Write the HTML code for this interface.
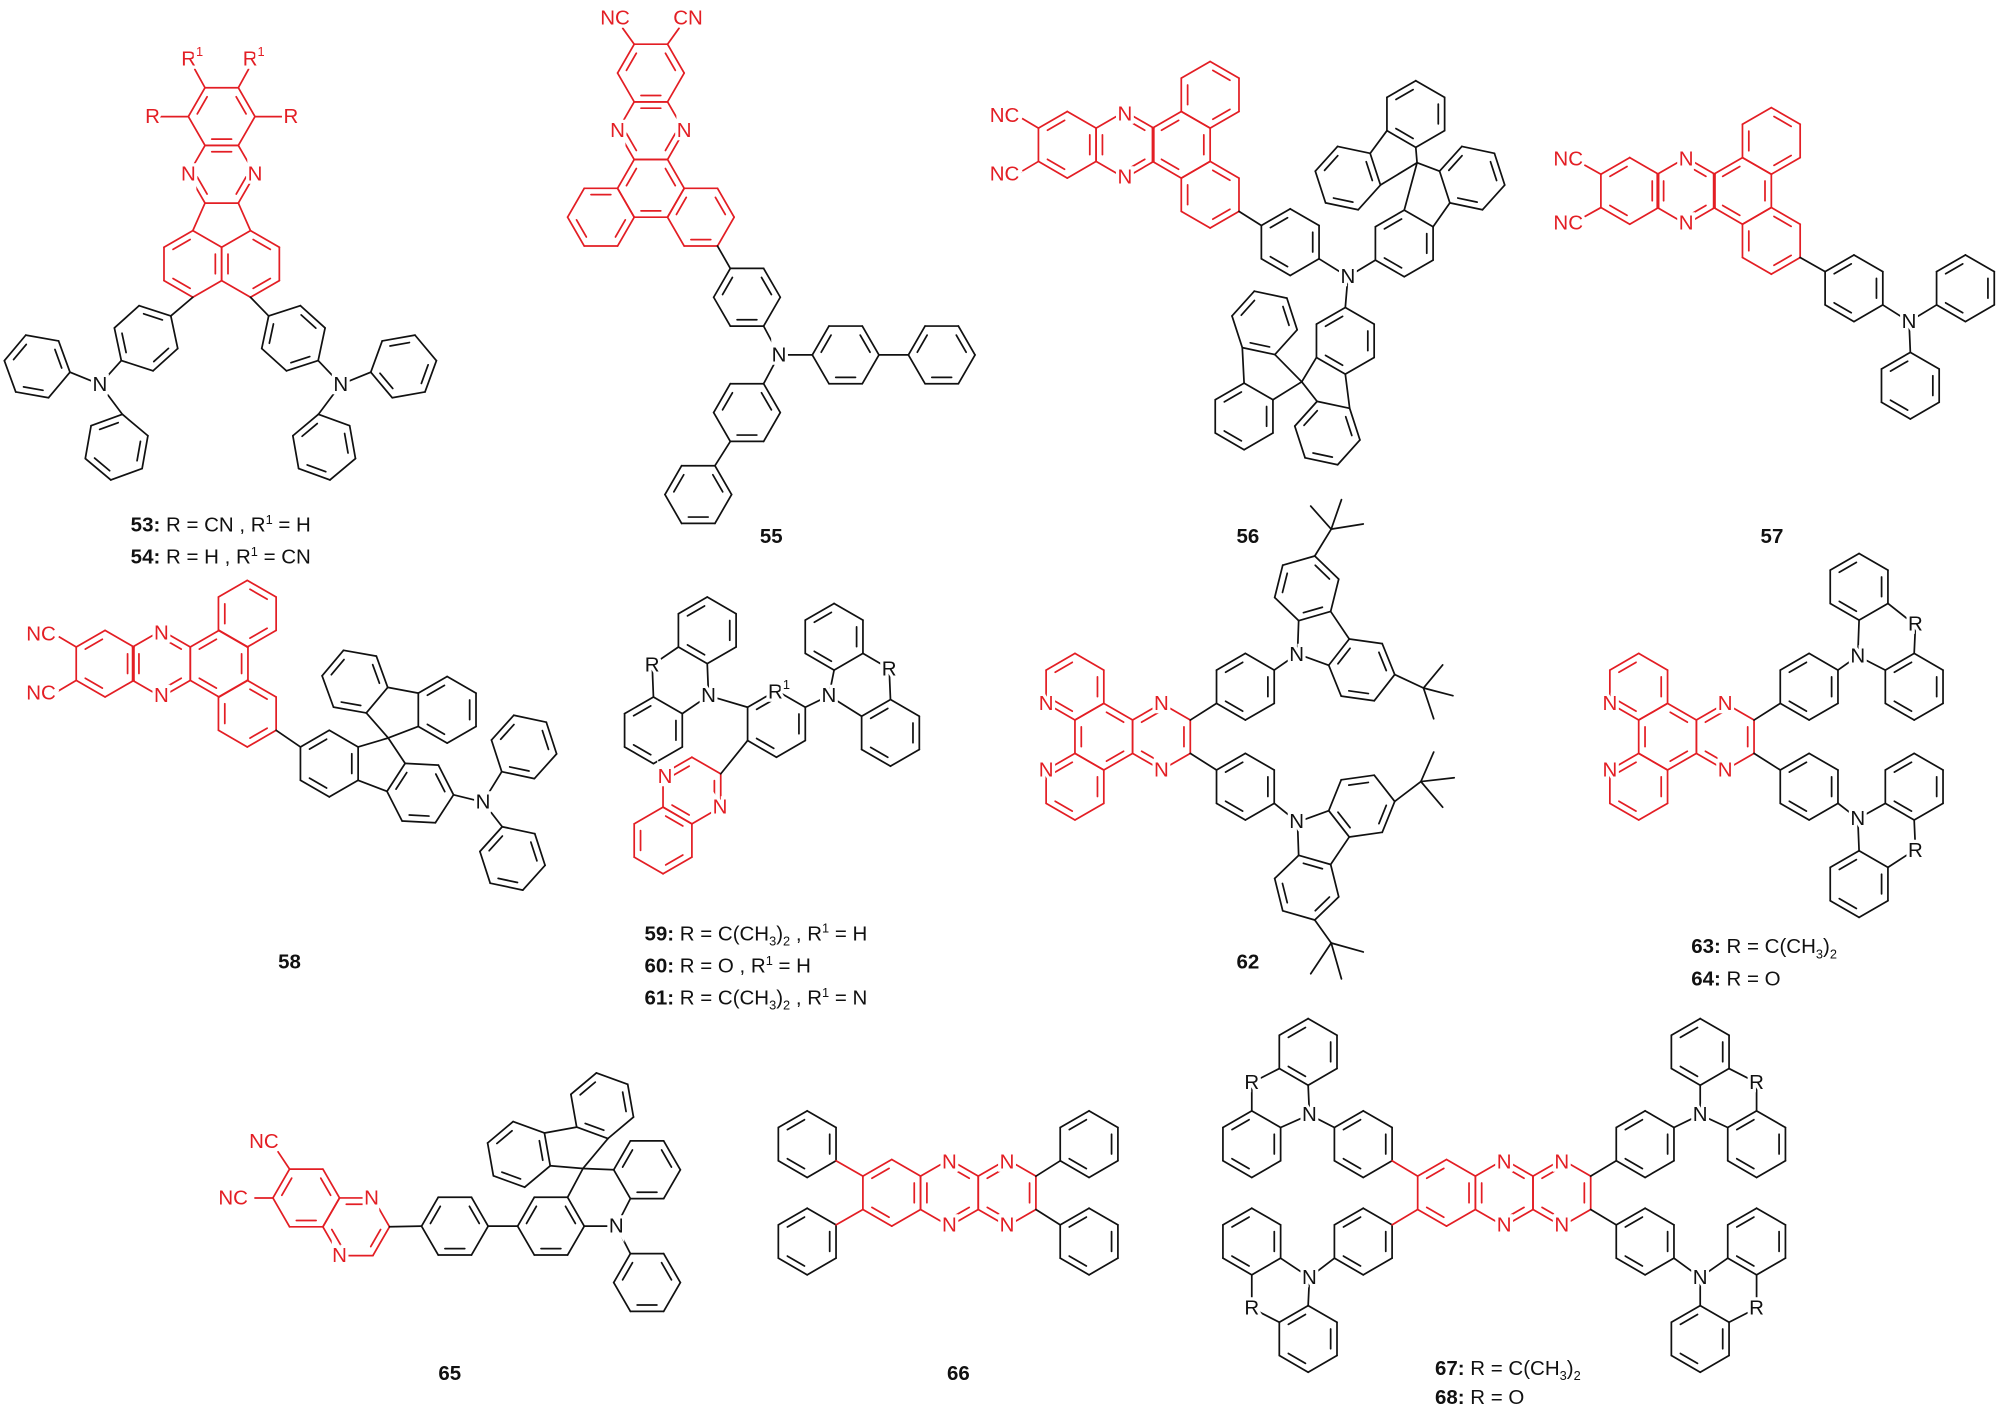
<!DOCTYPE html>
<html><head><meta charset="utf-8"><style>
html,body{margin:0;padding:0;background:#fff;}
svg{display:block;}
text{font-family:"Liberation Sans",Arial,sans-serif;}
.a{font-size:16px;text-anchor:middle;dominant-baseline:central;paint-order:stroke;stroke:#fff;stroke-width:5px;}
.r{fill:#e31e24;}
.k{fill:#111;}
.lab{font-size:16px;fill:#111;}
.b{font-weight:bold;}
</style></head><body>
<svg id="s" width="2009" height="1410" viewBox="0 0 1568 1100.5" xmlns="http://www.w3.org/2000/svg">
<g id="bonds" fill="none" stroke-width="1.35" stroke-linecap="round"></g>
<g id="labels">
<!-- 53 -->
<text class="a r" x="150" y="46">R<tspan font-size="10" dy="-6">1</tspan></text>
<text class="a r" x="198" y="46">R<tspan font-size="10" dy="-6">1</tspan></text>
<text class="a r" x="119" y="91">R</text>
<text class="a r" x="227" y="91">R</text>
<text class="a r" x="147" y="136">N</text>
<text class="a r" x="199" y="136">N</text>
<text class="a k" x="78" y="300">N</text>
<text class="a k" x="266" y="300">N</text>
<text class="lab" x="102" y="415"><tspan class="b">53:</tspan> R = CN , R<tspan font-size="10" dy="-6">1</tspan><tspan dy="6"> = H</tspan></text>
<text class="lab" x="102" y="440"><tspan class="b">54:</tspan> R = H , R<tspan font-size="10" dy="-6">1</tspan><tspan dy="6"> = CN</tspan></text>
<!-- 55 -->
<text class="a r" x="480" y="14">NC</text>
<text class="a r" x="537" y="14">CN</text>
<text class="a r" x="482" y="102">N</text>
<text class="a r" x="534" y="102">N</text>
<text class="a k" x="608" y="277">N</text>
<text class="lab b" x="602" y="424" text-anchor="middle">55</text>
<!-- 56 -->
<text class="a r" x="784" y="90">NC</text>
<text class="a r" x="784" y="136">NC</text>
<text class="a r" x="878" y="89">N</text>
<text class="a r" x="878" y="138">N</text>
<text class="a k" x="1052" y="216">N</text>
<text class="lab b" x="974" y="424" text-anchor="middle">56</text>
<!-- 57 -->
<text class="a r" x="1224" y="124">NC</text>
<text class="a r" x="1224" y="174">NC</text>
<text class="a r" x="1316" y="124">N</text>
<text class="a r" x="1316" y="174">N</text>
<text class="a k" x="1490" y="251">N</text>
<text class="lab b" x="1383" y="424" text-anchor="middle">57</text>
<!-- 58 -->
<text class="a r" x="32" y="495">NC</text>
<text class="a r" x="32" y="541">NC</text>
<text class="a r" x="126" y="494">N</text>
<text class="a r" x="126" y="543">N</text>
<text class="a k" x="377" y="626">N</text>
<text class="lab b" x="226" y="756" text-anchor="middle">58</text>
<!-- 59 -->
<text class="a k" x="553" y="543">N</text>
<text class="a k" x="647" y="543">N</text>
<text class="a k" x="509" y="519">R</text>
<text class="a k" x="694" y="522">R</text>
<text class="a k" x="608" y="540">R<tspan font-size="10" dy="-6">1</tspan></text>
<text class="a r" x="519" y="606">N</text>
<text class="a r" x="562" y="630">N</text>
<text class="lab" x="503" y="734"><tspan class="b">59:</tspan> R = C(CH<tspan font-size="10" dy="4">3</tspan><tspan dy="-4">)</tspan><tspan font-size="10" dy="4">2</tspan><tspan dy="-4"> , R</tspan><tspan font-size="10" dy="-6">1</tspan><tspan dy="6"> = H</tspan></text>
<text class="lab" x="503" y="759"><tspan class="b">60:</tspan> R = O , R<tspan font-size="10" dy="-6">1</tspan><tspan dy="6"> = H</tspan></text>
<text class="lab" x="503" y="784"><tspan class="b">61:</tspan>  R = C(CH<tspan font-size="10" dy="4">3</tspan><tspan dy="-4">)</tspan><tspan font-size="10" dy="4">2</tspan><tspan dy="-4"> , R</tspan><tspan font-size="10" dy="-6">1</tspan><tspan dy="6"> = N</tspan></text>
<!-- 62 -->
<text class="a r" x="816.5" y="549">N</text>
<text class="a r" x="816.5" y="601">N</text>
<text class="a r" x="906.5" y="549">N</text>
<text class="a r" x="906.5" y="601">N</text>
<text class="a k" x="1012" y="511">N</text>
<text class="a k" x="1012" y="641">N</text>
<text class="lab b" x="974" y="756" text-anchor="middle">62</text>
<!-- 63 -->
<text class="a r" x="1256.5" y="549">N</text>
<text class="a r" x="1256.5" y="601">N</text>
<text class="a r" x="1346.5" y="549">N</text>
<text class="a r" x="1346.5" y="601">N</text>
<text class="a k" x="1450" y="512">N</text>
<text class="a k" x="1450" y="639">N</text>
<text class="a k" x="1495" y="487">R</text>
<text class="a k" x="1495" y="664">R</text>
<text class="lab" x="1320" y="744"><tspan class="b">63:</tspan> R = C(CH<tspan font-size="10" dy="4">3</tspan><tspan dy="-4">)</tspan><tspan font-size="10" dy="4">2</tspan></text>
<text class="lab" x="1320" y="769"><tspan class="b">64:</tspan> R = O</text>
<!-- 65 -->
<text class="a r" x="206" y="891">NC</text>
<text class="a r" x="182" y="935">NC</text>
<text class="a r" x="290" y="935">N</text>
<text class="a r" x="265" y="980">N</text>
<text class="a k" x="481" y="957">N</text>
<text class="lab b" x="351" y="1077" text-anchor="middle">65</text>
<!-- 66 -->
<text class="a r" x="741" y="907">N</text>
<text class="a r" x="741" y="956">N</text>
<text class="a r" x="786" y="907">N</text>
<text class="a r" x="786" y="956">N</text>
<text class="lab b" x="748" y="1077" text-anchor="middle">66</text>
<!-- 67 -->
<text class="a r" x="1174" y="907">N</text>
<text class="a r" x="1174" y="956">N</text>
<text class="a r" x="1219" y="907">N</text>
<text class="a r" x="1219" y="956">N</text>
<text class="a k" x="1022" y="870">N</text>
<text class="a k" x="1022" y="997">N</text>
<text class="a k" x="1327" y="870">N</text>
<text class="a k" x="1327" y="997">N</text>
<text class="a k" x="977" y="845">R</text>
<text class="a k" x="977" y="1021">R</text>
<text class="a k" x="1371" y="845">R</text>
<text class="a k" x="1371" y="1021">R</text>
<text class="lab" x="1120" y="1073"><tspan class="b">67:</tspan> R = C(CH<tspan font-size="10" dy="4">3</tspan><tspan dy="-4">)</tspan><tspan font-size="10" dy="4">2</tspan></text>
<text class="lab" x="1120" y="1096"><tspan class="b">68:</tspan> R = O</text>
</g>
</svg>
<script>
(function(){
var G=document.getElementById('bonds'),NS='http://www.w3.org/2000/svg',S=26;
var RED='#e31e24',BK='#111';
function L(x1,y1,x2,y2,c){var l=document.createElementNS(NS,'line');l.setAttribute('x1',x1);l.setAttribute('y1',y1);l.setAttribute('x2',x2);l.setAttribute('y2',y2);l.setAttribute('stroke',c||BK);G.appendChild(l);}
function ring(cx,cy,rot,c,db){c=c||BK;db=db||0;var v=[];for(var k=0;k<6;k++){var a=(rot+60*k)*Math.PI/180;v.push([cx+S*Math.cos(a),cy+S*Math.sin(a)]);}
 for(var k=0;k<6;k++){var p=v[k],q=v[(k+1)%6];L(p[0],p[1],q[0],q[1],c);}
 for(var k=db;k<6;k+=2){var p=v[k],q=v[(k+1)%6];var f=0.78;var px=cx+(p[0]-cx)*f,py=cy+(p[1]-cy)*f,qx=cx+(q[0]-cx)*f,qy=cy+(q[1]-cy)*f;var dx=(qx-px)*0.12,dy=(qy-py)*0.12;L(px+dx,py+dy,qx-dx,qy-dy,c);}
 return {c:[cx,cy],v:v};}
function d2(a,b){return (a[0]-b[0])*(a[0]-b[0])+(a[1]-b[1])*(a[1]-b[1]);}
function near(r,p){var best=r.v[0];for(var i=1;i<6;i++)if(d2(r.v[i],p)<d2(best,p))best=r.v[i];return best;}
function link(a,b,c){var bp=null,bq=null,bd=1e9;for(var i=0;i<6;i++)for(var j=0;j<6;j++){var d=d2(a.v[i],b.v[j]);if(d<bd){bd=d;bp=a.v[i];bq=b.v[j];}}L(bp[0],bp[1],bq[0],bq[1],c);}
function to(r,p,c){var q=near(r,p);L(q[0],q[1],p[0],p[1],c);}
function tbu(cx,cy,arms){arms.forEach(function(a){L(cx,cy,a[0],a[1]);});}
function carb(cx,cy,ang){var Rp=22.1,v=[];for(var k=0;k<5;k++){var a=(ang+72*k)*Math.PI/180;v.push([cx+Rp*Math.cos(a),cy+Rp*Math.sin(a)]);}
 function hexOn(p,q,db){var mx=(p[0]+q[0])/2,my=(p[1]+q[1])/2,dx=mx-cx,dy=my-cy,l=Math.sqrt(dx*dx+dy*dy);var hx=mx+dx/l*22.5,hy=my+dy/l*22.5;var rot=Math.atan2(p[1]-hy,p[0]-hx)*180/Math.PI;return ring(hx,hy,rot,BK,db);}
 var r1=hexOn(v[1],v[2],1),r2=hexOn(v[3],v[4],1);
 L(v[0][0],v[0][1],v[1][0],v[1][1]);L(v[2][0],v[2][1],v[3][0],v[3][1]);L(v[4][0],v[4][1],v[0][0],v[0][1]);
 return [r1,r2,v[0]];}

/* 53 */
var a1=ring(173,91,0,RED,1),a2=ring(173,136,0,RED,0);
var n1=ring(150.5,206,30,RED,1),n2=ring(195.5,206,30,RED,0);
L(160,158.5,150.5,180,RED);L(186,158.5,195.5,180,RED);
L(147,91,125,91,RED);L(199,91,221,91,RED);L(160,68.5,152,54,RED);L(186,68.5,194,54,RED);
var p1=ring(114,264,18,BK,0),p2=ring(229,264,42,BK,0);
link(n1,p1);link(n2,p2);
to(p1,[78,300]);to(p2,[266,300]);
var q1=ring(29,286,10,BK,1),q2=ring(91,349,40,BK,1),q3=ring(315,286,50,BK,1),q4=ring(253,349,20,BK,1);
to(q1,[78,300]);to(q2,[78,300]);to(q3,[266,300]);to(q4,[266,300]);

/* 55 */
var b1=ring(508,57,0,RED,1),b2=ring(508,102,0,RED,0),b3=ring(508,147,0,RED,1),b4=ring(469,169.5,0,RED,0),b5=ring(547,169.5,0,RED,1);
L(495,34.5,486,22,RED);L(521,34.5,530,22,RED);
var c1=ring(583,232,0,BK,1);link(b5,c1);to(c1,[608,277]);
var c2=ring(660,277,0,BK,1);to(c2,[608,277]);var c3=ring(735,277,0,BK,1);link(c2,c3);
var c4=ring(583,322,0,BK,1);to(c4,[608,277]);var c5=ring(545,386,0,BK,1);link(c4,c5);

/* 56 */
var d1=ring(833,113,30,RED,1),d2r=ring(878,113,30,RED,0),d3=ring(922,113,30,RED,1),d4=ring(944.5,74,30,RED,0),d5=ring(944.5,152,30,RED,0);
L(810.5,100,797,92,RED);L(810.5,126,797,134,RED);
var e1=ring(1007,189,30,BK,1);link(d5,e1);to(e1,[1052,216]);
var e2=ring(1096,190,30,BK,1);to(e2,[1052,216]);
var e3=ring(1149,139,12,BK,1),e4=ring(1052,139,12,BK,1),e5=ring(1105,89,30,BK,1);
link(e2,e3);link(e4,e5);var S1=[1106,127];to(e2,S1);to(e3,S1);to(e4,S1);to(e5,S1);
var f1=ring(1050,266,30,BK,1);to(f1,[1052,216]);
var f2=ring(1036,338,12,BK,1),f3=ring(987,252,12,BK,1),f4=ring(971,325,30,BK,1);
link(f1,f2);link(f3,f4);var S2=[1016,298];to(f1,S2);to(f2,S2);to(f3,S2);to(f4,S2);

/* 57 */
var g1=ring(1272,149,30,RED,1),g2=ring(1316,149,30,RED,0),g3=ring(1360,149,30,RED,1),g4=ring(1382.5,110,30,RED,0),g5=ring(1382.5,188,30,RED,0);
L(1249.5,136,1237,129,RED);L(1249.5,162,1237,169,RED);
var h1=ring(1447,225,30,BK,1);link(g5,h1);to(h1,[1490,251]);
var h2=ring(1534,225,30,BK,1);to(h2,[1490,251]);var h3=ring(1491,301,30,BK,1);to(h3,[1490,251]);

/* 58 */
var i1=ring(82,518,30,RED,1),i2=ring(126,518,30,RED,0),i3=ring(171,518,30,RED,1),i4=ring(193,479,30,RED,0),i5=ring(193,557,30,RED,0);
L(59.5,505,46,497,RED);L(59.5,531,46,539,RED);
var j1=ring(257,596,30,BK,1);link(i5,j1);
var j2=ring(328,619,3,BK,1),j3=ring(277,532,10,BK,1),j4=ring(349,554,30,BK,1);
link(j1,j2);link(j3,j4);var S3=[303,576];to(j1,S3);to(j2,S3);to(j3,S3);to(j4,S3);
to(j2,[377,626]);var j5=ring(409,583,12,BK,1),j6=ring(400,670,12,BK,1);to(j5,[377,626]);to(j6,[377,626]);

/* 59 */
var k1=ring(552,492,30,BK,1),k2=ring(651,497,30,BK,1),k3=ring(510,570,30,BK,1),k4=ring(606,565,30,BK,1),k5=ring(695,572,30,BK,1);
to(k1,[553,543]);to(k3,[553,543]);to(k1,[509,519]);to(k3,[509,519]);
to(k2,[647,543]);to(k5,[647,543]);to(k2,[694,522]);to(k5,[694,522]);
to(k4,[553,543]);to(k4,[647,543]);
var k6=ring(540,617,30,RED,1),k7=ring(517.5,656,30,RED,0);link(k4,k6,BK);

/* 62 */
var m1=ring(839,536,30,RED,1),m2=ring(861.5,575,30,RED,0),m3=ring(839,614,30,RED,1),m4=ring(906.5,575,30,RED,1);
var m5=ring(972,536,30,BK,1),m6=ring(972,614,30,BK,1);link(m4,m5);link(m4,m6);
var cu=carb(1031,498,146),cl=carb(1031,654,214);
var m7=cu[0],m8=cu[1],m9=cl[0],m10=cl[1];
to(m5,cu[2]);to(m6,cl[2]);
to(m8,[1111,537]);tbu(1111,537,[[1126,519],[1134,543],[1119,561]]);
to(m7,[1039,413]);tbu(1039,413,[[1023,395],[1064,409],[1047,390]]);
to(m9,[1109,610]);tbu(1109,610,[[1119,587],[1135,607],[1126,630]]);
to(m10,[1039,736]);tbu(1039,736,[[1023,760],[1064,743],[1047,764]]);

/* 63 */
var o1=ring(1279,536,30,RED,1),o2=ring(1301.5,575,30,RED,0),o3=ring(1279,614,30,RED,1),o4=ring(1346.5,575,30,RED,1);
var o5=ring(1412,536,30,BK,1),o6=ring(1412,614,30,BK,1);link(o4,o5);link(o4,o6);
to(o5,[1450,512]);to(o6,[1450,639]);
var o7=ring(1451,458,30,BK,1),o8=ring(1494,536,30,BK,1);to(o7,[1450,512]);to(o8,[1450,512]);to(o7,[1495,488]);to(o8,[1495,488]);
var o9=ring(1494,614,30,BK,1),o10=ring(1451,690,30,BK,1);to(o9,[1450,639]);to(o10,[1450,639]);to(o9,[1495,663]);to(o10,[1495,663]);

/* 65 */
var t1=ring(239,935,0,RED,1),t2=ring(278,957.5,0,RED,0);
L(226,912.5,217,899,RED);L(213,935,199,935,RED);
var t3=ring(355,957,0,BK,1);link(t2,t3,BK);var t4=ring(430,957,0,BK,1);link(t3,t4);
var t5=ring(505,913,0,BK,1);var SP=[455,912];to(t4,SP);to(t5,SP);to(t4,[481,957]);to(t5,[481,957]);
var t6=ring(405,901,20,BK,1),t7=ring(470,863,20,BK,1);link(t6,t7);to(t6,SP);to(t7,SP);
var t8=ring(505,1001,0,BK,1);to(t8,[481,957]);

/* 66 */
var u1=ring(696,931,30,RED,1),u2=ring(741,931,30,RED,0),u3=ring(786,931,30,RED,1);
var u4=ring(630,893,30,BK,1),u5=ring(630,969,30,BK,1),u6=ring(850,893,30,BK,1),u7=ring(850,969,30,BK,1);
link(u1,u4,RED);link(u1,u5,RED);link(u3,u6,BK);link(u3,u7,BK);

/* 67 */
var w1=ring(1129,931,30,RED,1),w2=ring(1174,931,30,RED,0),w3=ring(1219,931,30,RED,1);
var w4=ring(1064,893,30,BK,1),w5=ring(1064,969,30,BK,1),w6=ring(1284,893,30,BK,1),w7=ring(1284,969,30,BK,1);
link(w1,w4,RED);link(w1,w5,RED);link(w3,w6,BK);link(w3,w7,BK);
to(w4,[1022,870]);to(w5,[1022,997]);to(w6,[1327,870]);to(w7,[1327,997]);
var x1=ring(1021,821,30,BK,1),x2=ring(977,893,30,BK,1);to(x1,[1022,870]);to(x2,[1022,870]);to(x1,[977,845]);to(x2,[977,845]);
var x3=ring(977,969,30,BK,1),x4=ring(1021,1045,30,BK,1);to(x3,[1022,997]);to(x4,[1022,997]);to(x3,[977,1021]);to(x4,[977,1021]);
var x5=ring(1327,821,30,BK,1),x6=ring(1371,893,30,BK,1);to(x5,[1327,870]);to(x6,[1327,870]);to(x5,[1371,845]);to(x6,[1371,845]);
var x7=ring(1371,969,30,BK,1),x8=ring(1327,1045,30,BK,1);to(x7,[1327,997]);to(x8,[1327,997]);to(x7,[1371,1021]);to(x8,[1371,1021]);
})();
</script>
</body></html>
